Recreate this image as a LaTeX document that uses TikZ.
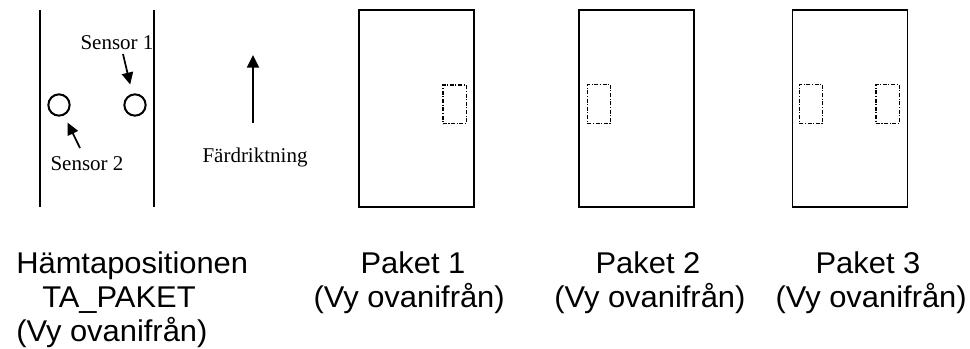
\documentclass[tikz,border=0pt]{standalone}
\usepackage{fontspec}
\setmainfont{Liberation Serif}
\newfontfamily\arial[FakeStretch=1.03]{Liberation Sans}
\usepackage{tikz}
\usetikzlibrary{arrows.meta,positioning}

\tikzset{
	lane/.style={line width=1.5pt},
	pil/.style={line width=1.3pt,-{Triangle[length=9pt,width=8.5pt]}},
	paket/.style={draw,line width=1.1pt,minimum width=86pt,minimum height=148pt,inner sep=0pt},
	falt/.style={draw,line width=1pt,dash pattern=on 3pt off 1.2pt on 0.8pt off 1.2pt,minimum width=17.5pt,minimum height=29pt,inner sep=0pt},
	sensor/.style={circle,draw,line width=1.5pt,minimum size=16pt,inner sep=0pt},
	liten/.style={font=\fontsize{15.75}{18}\selectfont,inner sep=0pt},
	rubrik/.style={font=\arial\fontsize{22.5}{26}\selectfont,inner sep=0pt,anchor=base}
}

\begin{document}
\begin{tikzpicture}[x=0.75pt,y=-0.75pt,auto]
	\useasboundingbox (0,0) rectangle (970,349);

	% hamtapositionen med sensorer
	\coordinate (vtop) at (40,10);
	\coordinate (vbot) at (40,207);
	\coordinate (htop) at (154,10);
	\coordinate (hbot) at (154,207);
	\draw [lane] (vtop) to (vbot);
	\draw [lane] (htop) to (hbot);

	\node [sensor] (s2) at (59,105) {};
	\node [sensor] (s1) at (135,105) {};
	\node [liten] (s1txt) at (117,43) {Sensor 1};
	\node [liten] (s2txt) at (87,164) {Sensor 2};
	\coordinate (s1fr) at (123,54);
	\coordinate (s2fr) at (80,148);
	\draw [pil,shorten >=7pt] (s1fr) to (s1);
	\draw [pil,shorten >=6pt] (s2fr) to (s2);

	% fardriktning
	\coordinate (fbot) at (253,123);
	\coordinate (ftop) at (253,55);
	\draw [pil,-{Triangle[length=9.5pt,width=9pt]}] (fbot) to (ftop);
	\node [liten] (fard) at (255,157) {Färdriktning};

	% paketen sedda ovanifran
	\node [paket] (p1) at (416.5,108.5) {};
	\node [paket] (p2) at (636.5,108.5) {};
	\node [paket] (p3) at (850,108.5) {};

	\node [falt] (p1a) at (454.5,104.5) {};
	\node [falt] (p2a) at (599,104) {};
	\node [falt] (p3a) at (811,104) {};
	\node [falt] (p3b) at (887.5,104) {};

	% texter under
	\node [rubrik,anchor=base west] (hamta) at (16,273) {Hämtapositionen};
	\node [rubrik,anchor=base west] (ta) at (42,307) {TA\_PAKET};
	\node [rubrik,anchor=base west] (vy0) at (16,341) {(Vy ovanifrån)};

	\node [rubrik] (paket1) at (413,273) {Paket 1};
	\node [rubrik,anchor=base east] (vy1) at (505,307) {(Vy ovanifrån)};
	\node [rubrik] (paket2) at (648,273) {Paket 2};
	\node [rubrik,anchor=base west] (vy2) at (554,307) {(Vy ovanifrån)};
	\node [rubrik] (paket3) at (868,273) {Paket 3};
	\node [rubrik,anchor=base east] (vy3) at (967,307) {(Vy ovanifrån)};
\end{tikzpicture}
\end{document}
